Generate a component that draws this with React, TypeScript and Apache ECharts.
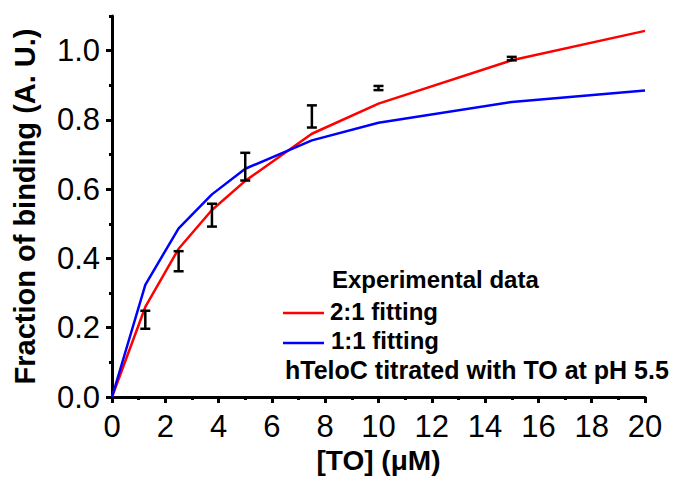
import React, { useEffect, useRef } from "react";
import * as echarts from "echarts";

// Titration points (concentration of TO, µM)
const expX = [1.25, 2.5, 3.75, 5, 7.5, 10, 15];
const expMean = [0.223, 0.392, 0.525, 0.665, 0.81, 0.892, 0.977];
const expErr = [0.026, 0.029, 0.033, 0.04, 0.032, 0.006, 0.005];

// Fitted binding curves
const fitX = [0, 1.25, 2.5, 3.75, 5, 7.5, 10, 15, 20];
const fit21 = [0, 0.26, 0.428, 0.54, 0.624, 0.76, 0.847, 0.972, 1.057];
const fit11 = [0, 0.324, 0.487, 0.585, 0.659, 0.741, 0.792, 0.852, 0.885];

const yMajor = [0, 0.2, 0.4, 0.6, 0.8, 1.0];
const yMinor = [0.1, 0.3, 0.5, 0.7, 0.9, 1.1];

const seriesNames = ["Experimental data", "2:1 fitting", "1:1 fitting"];
const noteText = "hTeloC titrated with TO at pH 5.5";

const FONT = "'Liberation Sans', Arial, sans-serif";

export default function App() {
  const ref = useRef<HTMLDivElement>(null);

  useEffect(() => {
    if (!ref.current) return;
    const chart = echarts.init(ref.current, null, { renderer: "svg" });

    const axisLine = { show: true, lineStyle: { color: "#000", width: 3 } };

    const option = {
      animation: false,
      grid: { left: 112, right: 30, top: 16, bottom: 84, containLabel: false },
      xAxis: {
        type: "value",
        min: 0,
        max: 20,
        interval: 2,
        name: "[TO] (\u03bcM)",
        nameLocation: "middle",
        nameGap: 48,
        nameTextStyle: { fontFamily: FONT, fontSize: 28, fontWeight: "bold", color: "#000" },
        axisLine,
        axisTick: { show: true, inside: false, length: 6, lineStyle: { color: "#000", width: 3 } },
        minorTick: { show: true, splitNumber: 2, length: 3, lineStyle: { color: "#000", width: 3 } },
        axisLabel: { margin: 14, fontFamily: FONT, fontSize: 31, color: "#000" },
        splitLine: { show: false },
      },
      yAxis: [
        {
          type: "value",
          min: 0,
          max: 1.1,
          interval: 0.2,
          name: "Fraction of binding (A. U.)",
          nameLocation: "middle",
          nameGap: 73,
          nameTextStyle: { fontFamily: FONT, fontSize: 29, fontWeight: "bold", color: "#000" },
          axisLine,
          axisTick: {
            show: true,
            length: 6,
            customValues: yMajor,
            lineStyle: { color: "#000", width: 3 },
          },
          axisLabel: {
            margin: 12,
            customValues: yMajor,
            fontFamily: FONT,
            fontSize: 31,
            color: "#000",
            formatter: (v: number) => v.toFixed(1),
          },
          splitLine: { show: false },
        },
        {
          type: "value",
          min: 0,
          max: 1.1,
          interval: 0.1,
          position: "left",
          axisLine: { show: false },
          axisTick: {
            show: true,
            length: 3,
            customValues: yMinor,
            lineStyle: { color: "#000", width: 3 },
          },
          axisLabel: { show: false },
          splitLine: { show: false },
        },
      ],
      series: [
        {
          name: seriesNames[1],
          type: "line",
          data: fitX.map((x, i) => [x, fit21[i]]),
          showSymbol: false,
          lineStyle: { color: "#ff0000", width: 2.5 },
          z: 2,
        },
        {
          name: seriesNames[2],
          type: "line",
          data: fitX.map((x, i) => [x, fit11[i]]),
          showSymbol: false,
          lineStyle: { color: "#0000ff", width: 2.5 },
          z: 2,
        },
        {
          name: seriesNames[0],
          type: "custom",
          z: 3,
          data: expX.map((x, i) => [x, expMean[i] - expErr[i], expMean[i] + expErr[i]]),
          encode: { x: 0, y: [1, 2] },
          renderItem: (params: any, api: any) => {
            const x = api.value(0);
            const lo = api.coord([x, api.value(1)]);
            const hi = api.coord([x, api.value(2)]);
            const half = 5;
            const style = { stroke: "#000", lineWidth: 2.5 };
            return {
              type: "group",
              children: [
                { type: "line", shape: { x1: lo[0], y1: lo[1], x2: hi[0], y2: hi[1] }, style },
                { type: "line", shape: { x1: lo[0] - half, y1: lo[1], x2: lo[0] + half, y2: lo[1] }, style },
                { type: "line", shape: { x1: hi[0] - half, y1: hi[1], x2: hi[0] + half, y2: hi[1] }, style },
              ],
            };
          },
        },
      ],
      graphic: [
        {
          type: "text",
          left: 332,
          top: 267,
          style: { text: seriesNames[0], font: `bold 24px ${FONT}`, fill: "#000" },
        },
        {
          type: "line",
          shape: { x1: 283, y1: 313, x2: 324, y2: 313 },
          style: { stroke: "#ff0000", lineWidth: 2.5 },
        },
        {
          type: "text",
          left: 330,
          top: 299,
          style: { text: seriesNames[1], font: `bold 24px ${FONT}`, fill: "#000" },
        },
        {
          type: "line",
          shape: { x1: 283, y1: 343, x2: 324, y2: 343 },
          style: { stroke: "#0000ff", lineWidth: 2.5 },
        },
        {
          type: "text",
          left: 331,
          top: 328,
          style: { text: seriesNames[2], font: `bold 24px ${FONT}`, fill: "#000" },
        },
        {
          type: "text",
          left: 285,
          top: 357,
          style: { text: noteText, font: `bold 25px ${FONT}`, fill: "#000" },
        },
      ],
    };

    chart.setOption(option as any);
    return () => chart.dispose();
  }, []);

  return <div ref={ref} style={{ width: 675, height: 481, position: "absolute", left: 0, top: 0 }} />;
}
